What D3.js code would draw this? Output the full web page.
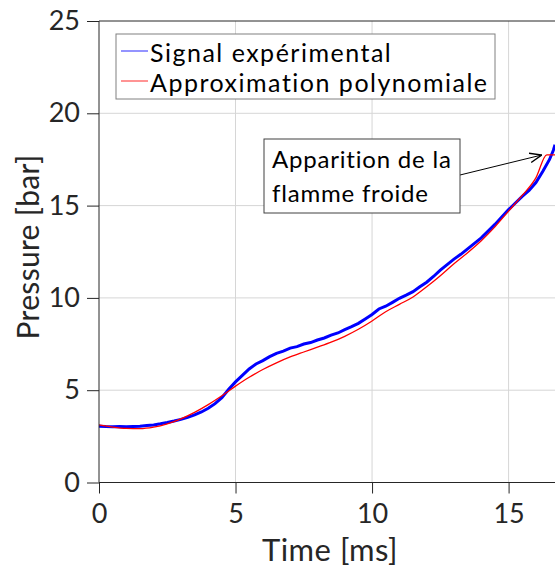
<!DOCTYPE html>
<html><head><meta charset="utf-8">
<script src="https://cdnjs.cloudflare.com/ajax/libs/d3/7.8.5/d3.min.js"></script>
<style>body{margin:0;background:#fff}svg{display:block}text{font-family:Lato,"Open Sans",sans-serif;fill:#262626}</style>
</head><body><svg id="c" width="555" height="568"></svg>
<script>
const xTicks=[0,5,10,15];
const yTicks=[0,5,10,15,20,25];
const seriesNames=["Signal expérimental","Approximation polynomiale"];
const annotationLines=["Apparition de la","flamme froide"];
const sigT=[0,0.25,0.5,0.75,1,1.25,1.5,1.75,2,2.25,2.5,2.75,3,3.25,3.5,3.75,4,4.25,4.5,4.75,5,5.25,5.5,5.75,6,6.25,6.5,6.75,7,7.25,7.5,7.75,8,8.25,8.5,8.75,9,9.25,9.5,9.75,10,10.25,10.5,10.75,11,11.25,11.5,11.75,12,12.25,12.5,12.75,13,13.25,13.5,13.75,14,14.25,14.5,14.75,15,15.25,15.5,15.75,16,16.25,16.5,16.64,16.7];
const sigP=[3.05,3.03,3.02,3.03,3.02,3.04,3.05,3.09,3.12,3.18,3.25,3.33,3.42,3.53,3.66,3.82,4.02,4.27,4.6,5.05,5.45,5.8,6.15,6.42,6.6,6.82,7.0,7.12,7.28,7.36,7.5,7.58,7.72,7.83,7.98,8.1,8.28,8.44,8.62,8.86,9.1,9.4,9.55,9.76,9.98,10.15,10.34,10.6,10.85,11.16,11.5,11.8,12.1,12.36,12.66,12.95,13.25,13.62,13.98,14.38,14.78,15.14,15.5,15.82,16.25,16.85,17.5,18.0,18.3];
const polyT=[0,0.5,1,1.5,2,2.5,3,3.5,4,4.5,5,5.5,6,6.5,7,7.5,8,8.5,9,9.5,10,10.5,11,11.5,12,12.5,13,13.5,14,14.5,15,15.5,16,16.4,16.7];
const polyP=[3.12,3.0,2.93,2.92,3.0,3.18,3.45,3.8,4.22,4.7,5.22,5.7,6.12,6.48,6.8,7.07,7.33,7.6,7.92,8.3,8.75,9.25,9.65,10.05,10.6,11.2,11.85,12.45,13.1,13.85,14.7,15.55,16.5,17.75,17.75];

const FONT="Lato,'Open Sans',sans-serif";
const svg=d3.select("#c");
const L=99,R=555,T=21,B=482.5;
const x=d3.scaleLinear().domain([0,16.7]).range([L,R]);
const y=d3.scaleLinear().domain([0,25]).range([B,T]);

const g=svg.append("g");
g.selectAll(".gx").data(xTicks.filter(d=>d>0)).join("line")
 .attr("x1",d=>x(d)).attr("x2",d=>x(d)).attr("y1",T).attr("y2",B)
 .attr("stroke","#d6d6d6").attr("stroke-width",1);
g.selectAll(".gy").data(yTicks.filter(d=>d>0&&d<25)).join("line")
 .attr("x1",L).attr("x2",R).attr("y1",d=>y(d)).attr("y2",d=>y(d))
 .attr("stroke","#d6d6d6").attr("stroke-width",1);
svg.append("line").attr("x1",L).attr("x2",R).attr("y1",T).attr("y2",T).attr("stroke","#262626");

svg.append("clipPath").attr("id","clip").append("rect").attr("x",L).attr("y",T).attr("width",R-L).attr("height",B-T);

const sig=sigT.map((t,i)=>[t,sigP[i]]);
const poly=polyT.map((t,i)=>[t,polyP[i]]);
const lineLin=d3.line().x(d=>x(d[0])).y(d=>y(d[1]));
const lineSm=d3.line().x(d=>x(d[0])).y(d=>y(d[1])).curve(d3.curveMonotoneX);
const pg=svg.append("g").attr("clip-path","url(#clip)");
pg.append("path").datum(sig).attr("d",lineLin).attr("fill","none").attr("stroke","#0000ff").attr("stroke-width",3);
pg.append("path").datum(poly).attr("d",lineSm).attr("fill","none").attr("stroke","#ff0000").attr("stroke-width",1.3);

const xa=svg.append("g").attr("transform",`translate(0,${B})`).call(d3.axisBottom(x).tickValues(xTicks).tickSize(11).tickPadding(10));
const ya=svg.append("g").attr("transform",`translate(${L},0)`).call(d3.axisLeft(y).tickValues(yTicks).tickSize(12).tickPadding(7));
[xa,ya].forEach(a=>{a.select(".domain").attr("stroke","#262626");a.selectAll(".tick line").attr("stroke","#262626");
 a.selectAll("text").style("font-family",FONT).style("font-size","27px").attr("fill","#262626");});
xa.select(".domain").attr("d",`M${L},0H${R}`);
ya.select(".domain").attr("d",`M0,${B}V${T}`);

svg.append("text").attr("x",330).attr("y",561).attr("text-anchor","middle").style("font-size","31px").style("letter-spacing","0.5px").text("Time [ms]");
svg.append("text").attr("transform","translate(39,247) rotate(-90)").attr("text-anchor","middle").style("font-size","30px").style("letter-spacing","0.3px").text("Pressure [bar]");

const lg=svg.append("g");
lg.append("rect").attr("x",116).attr("y",34).attr("width",379).attr("height",65).attr("fill","#fff").attr("stroke","#808080").attr("stroke-width",1);
const lc=["#7070ff","#ff7070"];
seriesNames.forEach((n,i)=>{
 const yy=51+i*30;
 lg.append("line").attr("x1",121).attr("x2",148).attr("y1",yy).attr("y2",yy).attr("stroke",lc[i]).attr("stroke-width",1.5);
 lg.append("text").attr("x",150).attr("y",yy+11).style("font-size","25px").style("letter-spacing","1.5px").style("fill","#000").text(n);
});

svg.append("defs").append("marker").attr("id","ah").attr("viewBox","0 0 10 10").attr("refX",10).attr("refY",5)
 .attr("markerWidth",12).attr("markerHeight",12).attr("markerUnits","userSpaceOnUse").attr("orient","auto")
 .append("path").attr("d","M0,1L10,5L0,9").attr("fill","none").attr("stroke","#000").attr("stroke-width",1.2);
svg.append("line").attr("x1",460).attr("y1",175).attr("x2",541.7).attr("y2",155).attr("stroke","#000").attr("stroke-width",1).attr("marker-end","url(#ah)");
svg.append("rect").attr("x",264).attr("y",139).attr("width",196).attr("height",74).attr("fill","#fff").attr("stroke","#404040").attr("stroke-width",1);
annotationLines.forEach((s,i)=>{
 svg.append("text").attr("x",272).attr("y",168+i*33.5).style("font-size","24px").style("letter-spacing","0.8px").style("fill","#000").text(s);
});
</script></body></html>
